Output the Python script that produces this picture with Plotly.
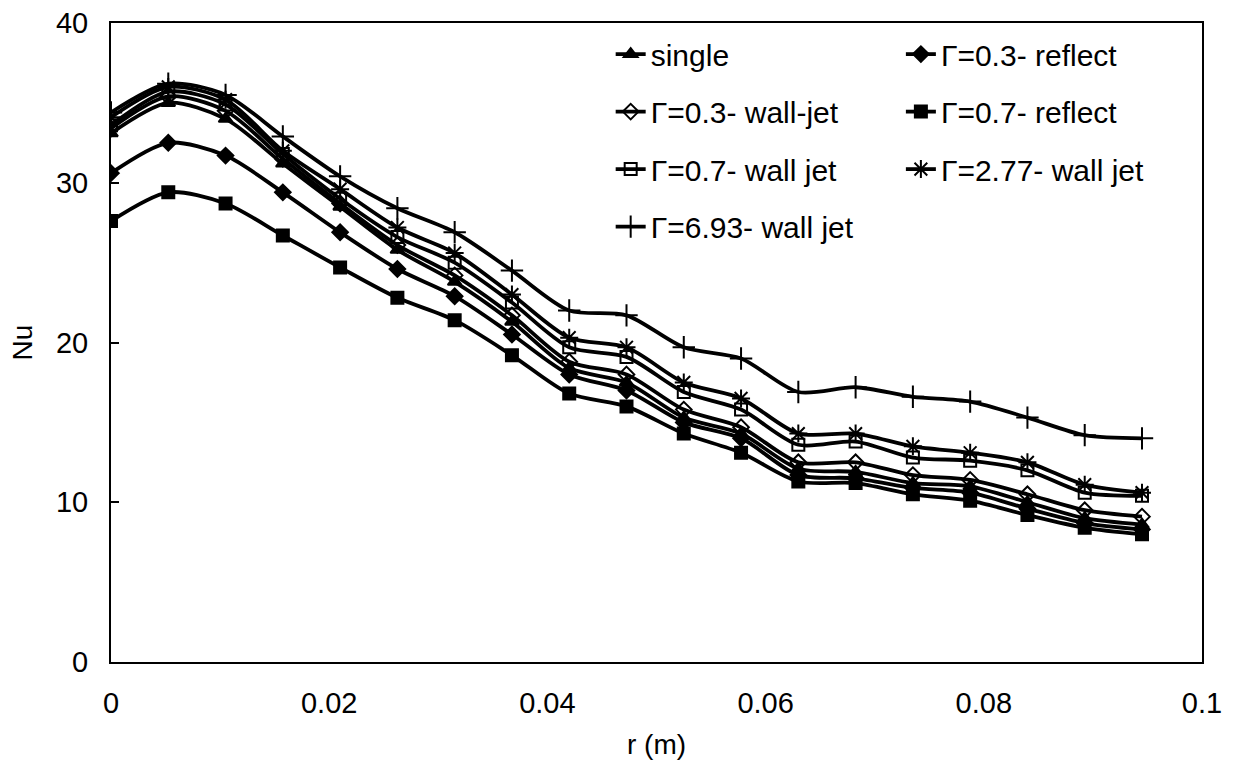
import plotly.graph_objects as go

# radial position (m)
r = [0, 0.00525, 0.0105, 0.01575, 0.021, 0.02625, 0.0315, 0.03675, 0.042, 0.04725,
     0.0525, 0.05775, 0.063, 0.06825, 0.0735, 0.07875, 0.084, 0.08925, 0.0945]

# Nu values
nu_single = [33.1, 35.0, 34.0, 31.2, 28.5, 25.8, 23.8, 21.3, 18.4, 17.5, 15.3, 14.3, 12.1, 11.9, 11.2, 11.0, 10.0, 9.0, 8.6]
nu_03_reflect = [30.6, 32.5, 31.7, 29.4, 26.9, 24.6, 22.9, 20.5, 18.0, 17.0, 15.0, 14.0, 11.7, 11.5, 10.9, 10.6, 9.6, 8.7, 8.3]
nu_03_walljet = [33.4, 35.4, 34.5, 31.5, 28.7, 26.1, 24.2, 21.7, 18.8, 18.0, 15.8, 14.7, 12.5, 12.5, 11.7, 11.4, 10.5, 9.5, 9.1]
nu_07_reflect = [27.6, 29.4, 28.7, 26.7, 24.7, 22.8, 21.4, 19.2, 16.8, 16.0, 14.3, 13.1, 11.3, 11.2, 10.5, 10.1, 9.2, 8.4, 8.0]
nu_07_walljet = [33.6, 35.7, 34.9, 31.8, 29.0, 26.6, 25.0, 22.5, 19.7, 19.1, 16.9, 15.8, 13.6, 13.8, 12.8, 12.6, 12.0, 10.6, 10.4]
nu_277_walljet = [34.1, 36.0, 35.2, 32.0, 29.6, 27.2, 25.6, 23.0, 20.3, 19.7, 17.5, 16.5, 14.3, 14.3, 13.5, 13.1, 12.5, 11.1, 10.6]
nu_693_walljet = [34.4, 36.2, 35.5, 32.9, 30.4, 28.4, 26.9, 24.5, 22.0, 21.7, 19.7, 19.0, 16.9, 17.2, 16.6, 16.3, 15.3, 14.2, 14.0]

FONT = "Liberation Sans, Arial, sans-serif"

# (name, values, symbol, legend column)
series = [
    ("single", nu_single, "triangle-up", "legend"),
    ("Γ=0.3- wall-jet", nu_03_walljet, "diamond-open", "legend"),
    ("Γ=0.7- wall jet", nu_07_walljet, "square-open", "legend"),
    ("Γ=6.93- wall jet", nu_693_walljet, "cross-thin-open", "legend"),
    ("Γ=0.3- reflect", nu_03_reflect, "diamond", "legend2"),
    ("Γ=0.7- reflect", nu_07_reflect, "square", "legend2"),
    ("Γ=2.77- wall jet", nu_277_walljet, "asterisk-open", "legend2"),
]
big = {"cross-thin-open": 16, "asterisk-open": 15}

fig = go.Figure()
for i, (name, vals, sym, leg) in enumerate(series):
    fig.add_trace(go.Scatter(
        x=r, y=vals, name=name, mode="lines+markers",
        line=dict(color="black", width=3.8, shape="spline", smoothing=0.8),
        marker=dict(symbol=sym, size=big.get(sym, 12), color="black",
                    line=dict(color="black", width=2)),
        legend=leg, legendgroup="g%d" % i,
    ))

fig.update_layout(
    width=1238, height=765,
    margin=dict(l=111, r=36, t=23, b=103, autoexpand=False),
    paper_bgcolor="white", plot_bgcolor="white",
    font=dict(family=FONT, size=29, color="black"),
    legend=dict(x=0.458, y=0.992, xanchor="left", yanchor="top",
                bgcolor="rgba(0,0,0,0)", font=dict(size=30),
                tracegroupgap=15.5, traceorder="grouped"),
    legend2=dict(x=0.724, y=0.992, xanchor="left", yanchor="top",
                 bgcolor="rgba(0,0,0,0)", font=dict(size=30),
                 tracegroupgap=15.5, traceorder="grouped"),
)
fig.update_xaxes(
    range=[0, 0.1], dtick=0.02, tick0=0, showgrid=False, zeroline=False,
    showline=True, linecolor="black", linewidth=2, mirror=True,
    ticks="", ticklabelstandoff=14,
    title=dict(text="r (m)", standoff=17, font=dict(size=28)),
    tickfont=dict(size=29),
)
fig.update_yaxes(
    range=[0, 40], dtick=10, showgrid=False, zeroline=False,
    showline=True, linecolor="black", linewidth=2, mirror=True,
    ticks="inside", ticklen=8, tickwidth=1.5, tickcolor="black",
    ticklabelstandoff=15,
    title=dict(text="Nu", standoff=15, font=dict(size=28)),
    tickfont=dict(size=29),
)

# drop the browser's default body margin so the figure sits at the page corner
fig.write_html("out.html", config={"displayModeBar": False},
               post_script="document.body.style.margin='0';")
